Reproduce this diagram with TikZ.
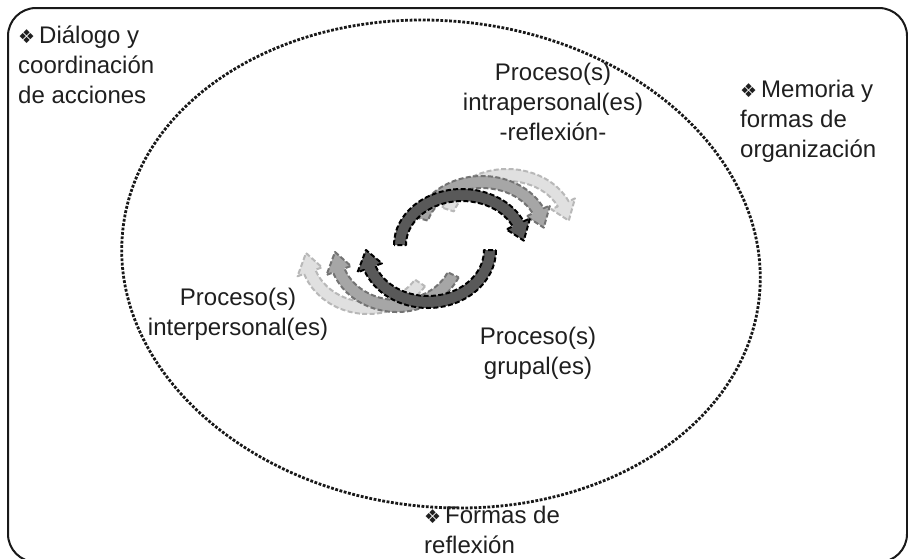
\documentclass[tikz,border=0pt]{standalone}
\usepackage{fontspec}
\setmainfont{Liberation Sans}
\newfontfamily\symfont{DejaVu Sans}
\newcommand{\dmd}{{\symfont\fontsize{19}{19}\selectfont ❖}\,}
% block arc arrow: centre x, centre y, x radius, y radius, start angle, end angle, fill, border
\newcommand{\blockarc}[8]{%
  \path[fill=#7, draw=#8, line width=2pt, dash pattern=on 5pt off 2.4pt,
        line join=round, shift={(#1,#2)}]
    (#5:{#3+6} and {#4+6})
      arc[start angle=#5, end angle=#6, x radius=#3+6, y radius=#4+6]
    -- (#6:{#3+13} and {#4+13})
    -- ({#6+20}:#3 and #4)
    -- (#6:{#3-13} and {#4-13})
    -- (#6:{#3-6} and {#4-6})
      arc[start angle=#6, end angle=#5, x radius=#3-6, y radius=#4-6]
    -- cycle;
}
\begin{document}
\begin{tikzpicture}[x=1pt, y=-1pt,
  lbl/.style={inner sep=0pt, text=black!88, font=\fontsize{24}{30}\selectfont},
  frame/.style={draw=black!90, line width=2pt, rounded corners=28pt},
  ring/.style={draw=black!90, line width=2.8pt, dash pattern=on 2.8pt off 1.6pt}]
\useasboundingbox (0,0) rectangle (908,558);
\fill[white] (0,0) rectangle (908,558);

% outer frame, open at the bottom edge of the page
\draw[frame] (8,562) rectangle (907,8);

% dotted ellipse, slightly tilted
\draw[ring, rotate around={-6:(441,264)}] (441,264) ellipse [x radius=320, y radius=243];

% fading trail of the upper arrow
\blockarc{507}{225}{62}{50}{198}{335}{black!12}{black!28}
\blockarc{482}{232}{62}{50}{195}{335}{black!35}{black!55}
% fading trail of the lower arrow
\blockarc{368}{253}{62}{55}{33}{160}{black!12}{black!28}
\blockarc{397}{252}{62}{54}{25}{160}{black!35}{black!55}
% the two main arrows of the cycle
\blockarc{462}{245}{62}{50}{180}{335}{black!65}{black}
\blockarc{428}{250}{62}{52}{0}{160}{black!65}{black}

% labels
\node[lbl, anchor=north west, align=left] (dialogo) at (18,26)
  {\dmd Diálogo y\\coordinación\\de acciones};
\node[lbl, anchor=north west, align=left] (memoria) at (740,80)
  {\dmd Memoria y\\formas de\\organización};
\node[lbl, anchor=north, align=center] (intra) at (553,63)
  {Proceso(s)\\intrapersonal(es)\\-reflexión-};
\node[lbl, anchor=north, align=center] (inter) at (238,288)
  {Proceso(s)\\interpersonal(es)};
\node[lbl, anchor=north, align=center] (grupal) at (538,327)
  {Proceso(s)\\grupal(es)};
\node[lbl, anchor=north west, align=left] (formas) at (424,506)
  {\dmd Formas de\\reflexión};
\end{tikzpicture}
\end{document}
